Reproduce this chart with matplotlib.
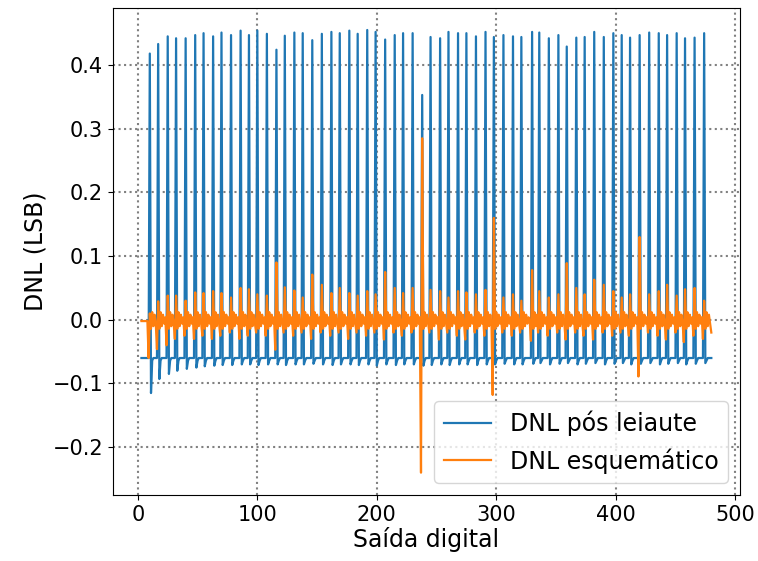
import numpy as np
import matplotlib
matplotlib.use('Agg')
import matplotlib.pyplot as plt

# codes where the periodic spikes occur
spike_codes = [10, 17, 25, 32, 40, 48, 55, 63, 70, 78, 86, 93, 100, 108, 116, 123,
               131, 138, 146, 154, 162, 169, 177, 184, 192, 199, 207, 215, 222, 230,
               238, 245, 253, 260, 268, 275, 283, 291, 298, 306, 314, 321, 330, 336,
               344, 352, 359, 367, 374, 382, 390, 398, 405, 412, 420, 428, 436, 443,
               451, 458, 466, 474]

# DNL pos leiaute: spike peak and the dip right after it
blue_peak = [0.418, 0.433, 0.445, 0.442, 0.442, 0.447, 0.450, 0.445, 0.451, 0.447,
             0.454, 0.447, 0.454, 0.449, 0.424, 0.446, 0.451, 0.450, 0.439, 0.449,
             0.452, 0.450, 0.454, 0.449, 0.455, 0.452, 0.440, 0.447, 0.450, 0.450,
             0.353, 0.444, 0.442, 0.452, 0.450, 0.450, 0.445, 0.452, 0.444, 0.447,
             0.445, 0.444, 0.452, 0.451, 0.442, 0.447, 0.429, 0.443, 0.444, 0.452,
             0.444, 0.450, 0.447, 0.443, 0.447, 0.451, 0.450, 0.447, 0.450, 0.442,
             0.443, 0.450]
blue_dip = [-0.115, -0.093, -0.085, -0.080, -0.077, -0.075, -0.073, -0.072, -0.071, -0.071,
            -0.070, -0.070, -0.071, -0.070, -0.070, -0.071, -0.070, -0.070, -0.069, -0.070,
            -0.071, -0.070, -0.070, -0.071, -0.070, -0.072, -0.070, -0.071, -0.070, -0.070,
            -0.072, -0.071, -0.070, -0.071, -0.070, -0.070, -0.071, -0.070, -0.070, -0.069,
            -0.070, -0.070, -0.069, -0.068, -0.070, -0.069, -0.068, -0.070, -0.069, -0.068,
            -0.070, -0.069, -0.068, -0.070, -0.069, -0.068, -0.070, -0.069, -0.068, -0.070,
            -0.069, -0.068]
blue_base = -0.060

# DNL esquematico: upward and downward glitch at each spike
orange_up = [0.010, 0.029, 0.038, 0.038, 0.030, 0.043, 0.042, 0.045, 0.042, 0.035,
             0.050, 0.048, 0.040, 0.038, 0.090, 0.051, 0.046, 0.035, 0.071, 0.055,
             0.042, 0.050, 0.042, 0.038, 0.045, 0.040, 0.075, 0.050, 0.042, 0.050,
             0.285, 0.047, 0.045, 0.035, 0.045, 0.043, 0.040, 0.047, 0.160, 0.035,
             0.040, 0.030, 0.078, 0.045, 0.035, 0.040, 0.089, 0.050, 0.040, 0.063,
             0.055, 0.045, 0.035, 0.040, 0.130, 0.040, 0.045, 0.055, 0.038, 0.048,
             0.050, 0.030]
orange_down = [-0.060, -0.046, -0.040, -0.030, -0.025, -0.030, -0.025, -0.030, -0.025, -0.020,
               -0.030, -0.025, -0.020, -0.025, -0.047, -0.020, -0.025, -0.020, -0.030, -0.020,
               -0.025, -0.020, -0.030, -0.020, -0.025, -0.020, -0.031, -0.020, -0.025, -0.020,
               -0.240, -0.020, -0.031, -0.020, -0.025, -0.031, -0.020, -0.025, -0.118, -0.020,
               -0.025, -0.020, -0.033, -0.020, -0.025, -0.020, -0.031, -0.020, -0.025, -0.031,
               -0.020, -0.025, -0.020, -0.025, -0.089, -0.020, -0.025, -0.031, -0.020, -0.035,
               -0.025, -0.030]
# ringing seen after every orange glitch, and the level in between
orange_ring = [-0.014, 0.012, -0.010, 0.008, -0.006, 0.004]
orange_base = -0.002

codes = np.arange(3, 481)

dnl_pos = np.full(len(codes), blue_base)
dnl_esq = np.full(len(codes), orange_base)
for k, c in enumerate(spike_codes):
    i = c - codes[0]
    dnl_pos[i] = blue_peak[k]
    dnl_pos[i + 1] = blue_dip[k]
    dnl_pos[i + 2] = blue_base - 0.004
    dnl_esq[i - 1] = orange_down[k]
    dnl_esq[i] = orange_up[k]
    for j, r in enumerate(orange_ring):
        if i + 1 + j < len(codes):
            dnl_esq[i + 1 + j] = r
dnl_esq[-1] = -0.02

fig = plt.figure(figsize=(7.58, 5.61), dpi=100)
ax = fig.add_axes([0.149, 0.118, 0.827, 0.868])
ax.plot(codes, dnl_pos, color='#1f77b4', linewidth=1.6, label='DNL pós leiaute')
ax.plot(codes, dnl_esq, color='#ff7f0e', linewidth=1.6, label='DNL esquemático')
ax.grid(True, linestyle=':', color='gray', linewidth=1.5)
ax.set_xlabel('Saída digital', fontsize=17, labelpad=2)
ax.set_ylabel('DNL (LSB)', fontsize=17)
ax.tick_params(labelsize=15)
ax.legend(loc='lower right', fontsize=17)
plt.savefig('out.png', dpi=100)
